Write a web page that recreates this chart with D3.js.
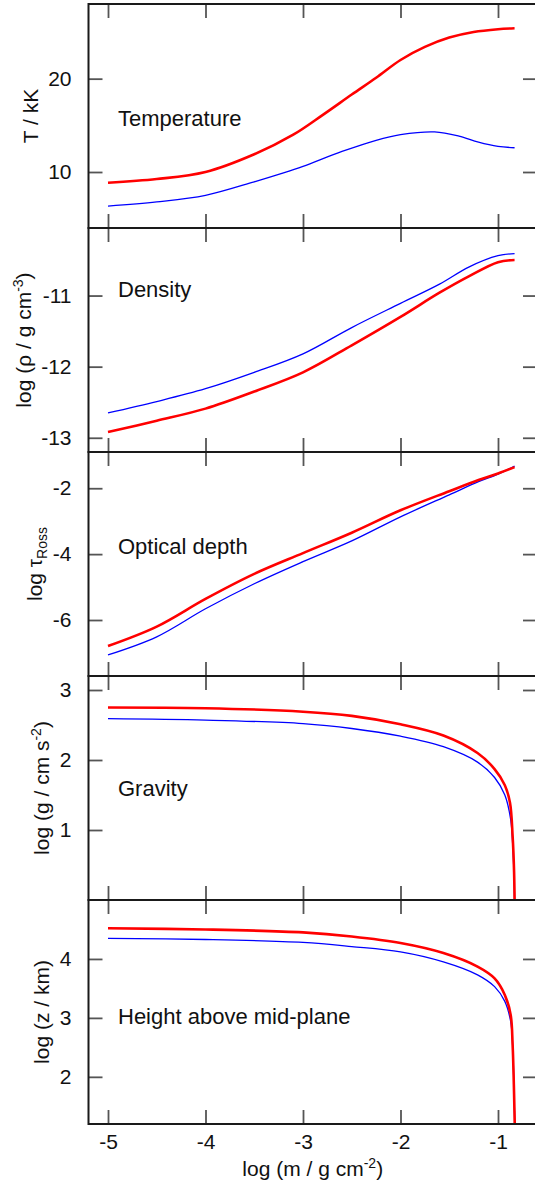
<!DOCTYPE html>
<meta charset="utf-8">
<title>Vertical structure of the disc atmosphere</title>
<style>
body { margin:0; background:#fff; }
svg { display:block; font-family:"Liberation Sans", Arial, sans-serif; }
.frame { fill:none; stroke:#1a1a1a; stroke-width:2px; }
.tick line { stroke:#555; stroke-width:1.8px; }
.domain { display:none; }
.tick text { font-size:21px; fill:#111; font-family:"Liberation Sans", Arial, sans-serif; }
.hot { fill:none; stroke:#ff0000; stroke-width:2.6px; }
.cool { fill:none; stroke:#0000ff; stroke-width:1.3px; }
.lab { font-size:21px; fill:#111; }
</style>
<svg width="535" height="1184"></svg>
<script src="https://d3js.org/d3.v7.min.js"></script>
<script>

// x values: log column mass, pairs are [log m, value]
var logm_ticks = [-5, -4, -3, -2, -1];

var temp_hot  = [[-5,8.85],[-4.5,9.25],[-4,10.0],[-3.5,11.9],[-3.1,14.0],[-2.8,16.1],[-2.5,18.3],[-2.25,20.1],[-2,22.0],[-1.75,23.4],[-1.5,24.4],[-1.25,25.0],[-1,25.3],[-0.83,25.4]];
var temp_cool = [[-5,6.35],[-4.5,6.8],[-4,7.5],[-3.5,8.95],[-3.2,9.9],[-3,10.6],[-2.6,12.2],[-2.25,13.4],[-2,14.0],[-1.65,14.3],[-1.4,13.85],[-1.2,13.2],[-1,12.75],[-0.83,12.6]];

var dens_hot  = [[-5,-12.92],[-4.5,-12.76],[-4,-12.59],[-3.5,-12.35],[-3,-12.08],[-2.5,-11.70],[-2,-11.30],[-1.6,-10.96],[-1.3,-10.73],[-1,-10.53],[-0.83,-10.50]];
var dens_cool = [[-5,-12.65],[-4.5,-12.49],[-4,-12.31],[-3.5,-12.08],[-3,-11.82],[-2.5,-11.45],[-2,-11.11],[-1.6,-10.84],[-1.3,-10.60],[-1,-10.44],[-0.83,-10.41]];

var tau_hot  = [[-5,-6.79],[-4.5,-6.20],[-4,-5.36],[-3.5,-4.60],[-3,-3.97],[-2.5,-3.35],[-2,-2.67],[-1.5,-2.09],[-1.2,-1.75],[-1,-1.55],[-0.83,-1.36]];
var tau_cool = [[-5,-7.06],[-4.5,-6.51],[-4,-5.66],[-3.5,-4.90],[-3,-4.23],[-2.5,-3.60],[-2,-2.87],[-1.5,-2.20],[-1.2,-1.80],[-1,-1.57],[-0.83,-1.33]];

var grav_hot  = [[-5,2.75],[-4,2.74],[-3,2.69],[-2.5,2.63],[-2,2.51],[-1.56,2.35],[-1.21,2.10],[-1.035,1.87],[-0.93,1.64],[-0.877,1.39],[-0.85,0.91],[-0.835,0.4],[-0.826,-0.5]];
var grav_cool = [[-5,2.59],[-4,2.57],[-3,2.52],[-2.5,2.45],[-2,2.34],[-1.56,2.19],[-1.21,1.97],[-1.035,1.75],[-0.93,1.50],[-0.87,1.15],[-0.845,0.68],[-0.833,0.2],[-0.826,-0.5]];

var height_hot  = [[-5,4.52],[-4,4.50],[-3,4.45],[-2.5,4.38],[-2,4.27],[-1.56,4.10],[-1.21,3.87],[-1.035,3.67],[-0.93,3.39],[-0.87,3.05],[-0.85,2.54],[-0.835,1.7],[-0.826,1.0]];
var height_cool = [[-5,4.35],[-4,4.33],[-3,4.28],[-2.5,4.21],[-2,4.12],[-1.56,3.95],[-1.21,3.73],[-1.035,3.53],[-0.93,3.28],[-0.87,2.94],[-0.85,2.54],[-0.835,1.7],[-0.826,1.0]];

var panels = [
  {name:"Temperature", title:[{t:"T / kK"}], domain:[4,28], ticks:[10,20], hot:temp_hot, cool:temp_cool, labelY:122},
  {name:"Density", title:[{t:"log (ρ / g cm"},{t:"-3",sup:1},{t:")"}], domain:[-13.2,-10.05], ticks:[-13,-12,-11], hot:dens_hot, cool:dens_cool, labelY:69},
  {name:"Optical depth", title:[{t:"log τ"},{t:"Ross",sub:1}], domain:[-7.7,-0.9], ticks:[-6,-4,-2], hot:tau_hot, cool:tau_cool, labelY:102},
  {name:"Gravity", title:[{t:"log (g / cm s"},{t:"-2",sup:1},{t:")"}], domain:[0,3.2], ticks:[1,2,3], hot:grav_hot, cool:grav_cool, labelY:120},
  {name:"Height above mid-plane", title:[{t:"log (z / km)"}], domain:[1.2,5.0], ticks:[2,3,4], hot:height_hot, cool:height_cool, labelY:124}
];

var svg = d3.select("svg"),
    left = 88.5, right = 537, top0 = 4, ph = 224;

var x = d3.scaleLinear().domain([-5.2, -0.6]).range([left, right]);

function addParts(sel, parts) {
  var shift = 0;
  parts.forEach(function(p) {
    var ts = sel.append("tspan").text(p.t);
    var want = p.sup ? -8 : p.sub ? 5 : 0;
    if (p.sup || p.sub) ts.style("font-size","14px");
    if (want != shift) ts.attr("dy", want - shift);
    shift = want;
  });
}

panels.forEach(function(p, i) {
  var y0 = top0 + i*ph;
  var y = d3.scaleLinear().domain(p.domain).range([y0+ph, y0]);
  var g = svg.append("g");

  g.append("clipPath").attr("id","clip"+i)
    .append("rect").attr("x",left).attr("y",y0).attr("width",right-left).attr("height",ph);

  var line = d3.line()
    .x(function(d){ return x(d[0]); })
    .y(function(d){ return y(d[1]); })
    .curve(d3.curveCatmullRom.alpha(0.5));

  g.append("path").datum(p.cool).attr("class","cool").attr("clip-path","url(#clip"+i+")").attr("d",line);
  g.append("path").datum(p.hot).attr("class","hot").attr("clip-path","url(#clip"+i+")").attr("d",line);

  var ya = g.append("g").attr("transform","translate("+left+",0)")
    .call(d3.axisLeft(y).tickValues(p.ticks).tickSize(-14).tickPadding(17).tickFormat(String));
  g.append("g").attr("transform","translate("+right+",0)")
    .call(d3.axisRight(y).tickValues(p.ticks).tickSize(-14).tickFormat(""));
  g.append("g").attr("transform","translate(0,"+y0+")")
    .call(d3.axisTop(x).tickValues(logm_ticks).tickSize(-14).tickFormat(""));
  g.append("g").attr("transform","translate(0,"+(y0+ph)+")")
    .call(d3.axisBottom(x).tickValues(logm_ticks).tickSize(-14).tickPadding(10)
      .tickFormat(i == panels.length-1 ? String : ""));

  g.append("rect").attr("class","frame")
    .attr("x",left).attr("y",y0).attr("width",right-left).attr("height",ph);

  g.append("text").attr("class","lab").style("font-size","22px")
    .attr("x",118).attr("y",y0+p.labelY).text(p.name);

  var maxW = d3.max(ya.selectAll("text").nodes(), function(n){ return n.getComputedTextLength(); });
  var tx = left - 17 - maxW - 10.5;
  var title = g.append("text").attr("class","lab")
    .attr("text-anchor","middle")
    .attr("transform","translate("+tx+","+(y0+ph/2)+") rotate(-90)");
  addParts(title, p.title);
});

var xt = svg.append("text").attr("class","lab")
  .attr("text-anchor","middle")
  .attr("x",(left+right)/2).attr("y",1176);
addParts(xt, [{t:"log (m / g cm"},{t:"-2",sup:1},{t:")"}]);

</script>
